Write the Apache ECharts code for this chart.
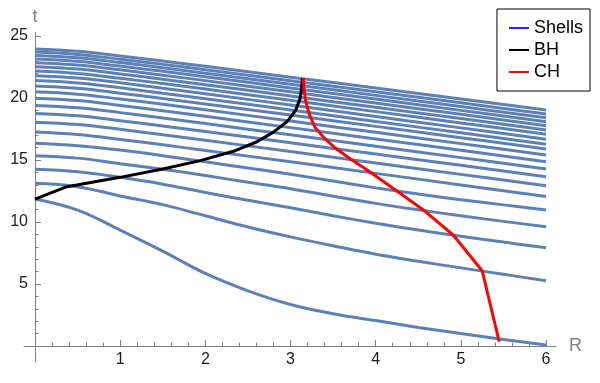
<!DOCTYPE html>
<html>
<head>
<meta charset="utf-8">
<script src="https://cdn.jsdelivr.net/npm/echarts@6/dist/echarts.min.js"></script>
<style>
  html, body { margin: 0; padding: 0; background: #fff; }
  #chart { width: 600px; height: 383px; }
</style>
</head>
<body>
<div id="chart"></div>
<script>
// R grids the shell values are read at
const R_LOWER = [0, 0.5, 1, 1.5, 2, 2.5, 3, 3.5, 4, 4.5, 5, 5.5, 6];
const R_UPPER = [0, 0.5, 1, 1.5, 2, 3, 4, 5, 6];

// inner shells (bottom up), t at R_LOWER
const lowerShells = [
  [11.85, 10.95, 9.35, 7.65, 5.85, 4.45, 3.35, 2.6, 2.05, 1.5, 1.0, 0.53, 0.08],
  [13.12, 12.85, 12.1, 11.4, 10.5, 9.6, 8.8, 8.08, 7.4, 6.83, 6.3, 5.78, 5.27],
  [14.25, 14.05, 13.6, 13.05, 12.38, 11.75, 11.15, 10.5, 9.9, 9.35, 8.85, 8.38, 7.93],
  [15.35, 15.15, 14.7, 14.25, 13.75, 13.2, 12.68, 12.08, 11.5, 10.98, 10.5, 10.05, 9.62],
  [16.35, 16.15, 15.8, 15.35, 14.85, 14.35, 13.85, 13.3, 12.75, 12.25, 11.8, 11.38, 10.97]
];

// outer shells (bottom up), t at R_UPPER
const upperShells = [
  [17.25, 17.05, 16.66, 16.22, 15.77, 14.85, 13.92, 12.99, 12.05],
  [18.05, 17.86, 17.47, 17.03, 16.59, 15.68, 14.76, 13.84, 12.92],
  [18.75, 18.56, 18.17, 17.74, 17.3, 16.39, 15.48, 14.57, 13.65],
  [19.4, 19.21, 18.82, 18.38, 17.94, 17.03, 16.11, 15.19, 14.27],
  [19.98, 19.79, 19.4, 18.97, 18.52, 17.61, 16.7, 15.78, 14.86],
  [20.5, 20.31, 19.92, 19.49, 19.05, 18.14, 17.23, 16.32, 15.4],
  [20.97, 20.78, 20.39, 19.96, 19.52, 18.62, 17.71, 16.8, 15.89],
  [21.4, 21.21, 20.82, 20.38, 19.94, 19.03, 18.11, 17.19, 16.27],
  [21.8, 21.61, 21.22, 20.78, 20.34, 19.43, 18.51, 17.59, 16.67],
  [22.17, 21.98, 21.59, 21.16, 20.72, 19.81, 18.9, 17.99, 17.07],
  [22.52, 22.33, 21.94, 21.51, 21.07, 20.16, 19.25, 18.34, 17.42],
  [22.85, 22.66, 22.27, 21.84, 21.4, 20.5, 19.59, 18.68, 17.76],
  [23.15, 22.96, 22.57, 22.15, 21.71, 20.81, 19.91, 19.0, 18.09],
  [23.43, 23.24, 22.86, 22.44, 22.0, 21.11, 20.21, 19.31, 18.41],
  [23.7, 23.51, 23.13, 22.71, 22.28, 21.39, 20.5, 19.61, 18.71],
  [23.95, 23.76, 23.39, 22.98, 22.55, 21.68, 20.8, 19.92, 19.03]
];

const BH_R = [0, 0.375, 1, 1.5, 1.94, 2.33, 2.6, 2.8, 2.96, 3.06, 3.11, 3.13, 3.14];
const BH_T = [11.85, 12.85, 13.6, 14.27, 14.95, 15.7, 16.45, 17.25, 18.1, 19.0, 19.9, 20.7, 21.6];

const CH_R = [3.15, 3.16, 3.18, 3.22, 3.29, 3.4, 3.51, 3.7, 3.9, 4.29, 4.56, 4.91, 5.25, 5.45];
const CH_T = [21.6, 20.6, 19.7, 18.7, 17.6, 16.75, 16.05, 15.1, 14.2, 12.3, 10.97, 8.95, 6.07, 0.35];

const X_MAJOR = [1, 2, 3, 4, 5, 6];
const X_MINOR = [0.2, 0.4, 0.6, 0.8, 1.2, 1.4, 1.6, 1.8, 2.2, 2.4, 2.6, 2.8, 3.2, 3.4, 3.6, 3.8,
                 4.2, 4.4, 4.6, 4.8, 5.2, 5.4, 5.6, 5.8];
const Y_MAJOR = [5, 10, 15, 20, 25];
const Y_MINOR = [1, 2, 3, 4, 6, 7, 8, 9, 11, 12, 13, 14, 16, 17, 18, 19, 21, 22, 23, 24];

const SHELL_COLOR = '#5E81B5';
const AXIS_GRAY = '#7f7f7f';
const FONT = '"Liberation Sans", Arial, sans-serif';

const pairs = (xs, ys) => xs.map((x, i) => [x, ys[i]]);

const lineSeries = (name, data, color, smooth) => ({
  name,
  type: 'line',
  data,
  smooth,
  symbol: 'none',
  silent: true,
  xAxisIndex: 0,
  yAxisIndex: 0,
  lineStyle: { color, width: 3 },
  itemStyle: { color }
});

const series = [];
lowerShells.forEach(ts => series.push(lineSeries('Shells', pairs(R_LOWER, ts), SHELL_COLOR, 0.4)));
upperShells.forEach(ts => series.push(lineSeries('Shells', pairs(R_UPPER, ts), SHELL_COLOR, 0.4)));
series.push(lineSeries('BH', pairs(BH_R, BH_T), '#000000', false));
series.push(lineSeries('CH', pairs(CH_R, CH_T), '#ff0000', false));

const X_MIN = -0.129, X_MAX = 6.117;
const Y_MIN = -1.29, Y_MAX = 25.24;

const chart = echarts.init(document.getElementById('chart'));
chart.setOption({
  animation: false,
  textStyle: { fontFamily: FONT },
  grid: { left: 24, right: 44, top: 33, bottom: 21, containLabel: false },
  legend: {
    orient: 'vertical',
    right: 10,
    top: 9,
    padding: [9, 7, 9, 12],
    itemGap: 2,
    itemWidth: 20,
    itemHeight: 2,
    icon: 'rect',
    borderColor: '#000',
    borderWidth: 1,
    selectedMode: false,
    textStyle: { fontSize: 18, color: '#000', lineHeight: 20, fontFamily: FONT },
    data: [
      { name: 'Shells', itemStyle: { color: '#2424ff' } },
      { name: 'BH', itemStyle: { color: '#000000' } },
      { name: 'CH', itemStyle: { color: '#ff0000' } }
    ]
  },
  xAxis: [
    {
      type: 'value',
      min: X_MIN,
      max: X_MAX,
      position: 'bottom',
      name: 'R',
      nameLocation: 'end',
      nameGap: 13,
      nameTextStyle: { color: '#808080', fontSize: 18, fontFamily: FONT },
      axisLine: { onZero: true, onZeroAxisIndex: 0, lineStyle: { color: AXIS_GRAY, width: 1 } },
      axisTick: { inside: true, length: 6, customValues: X_MAJOR, lineStyle: { color: AXIS_GRAY } },
      // labels are laid out from the grid edge; anchor by their bottom to lift them to t = 0
      axisLabel: {
        customValues: X_MAJOR, margin: 6, verticalAlign: 'bottom', lineHeight: 16,
        fontSize: 16, color: '#1a1a1a', fontFamily: FONT
      },
      splitLine: { show: false }
    },
    {
      type: 'value',
      min: X_MIN,
      max: X_MAX,
      position: 'bottom',
      axisLine: { show: false, onZero: true, onZeroAxisIndex: 0 },
      axisTick: { inside: true, length: 3.5, customValues: X_MINOR, lineStyle: { color: AXIS_GRAY } },
      axisLabel: { show: false },
      splitLine: { show: false }
    }
  ],
  yAxis: [
    {
      type: 'value',
      min: Y_MIN,
      max: Y_MAX,
      position: 'left',
      name: 't',
      nameLocation: 'end',
      nameGap: 7,
      nameTextStyle: { color: '#808080', fontSize: 18, fontFamily: FONT },
      axisLine: { onZero: true, onZeroAxisIndex: 0, lineStyle: { color: AXIS_GRAY, width: 1 } },
      axisTick: { inside: true, length: 6, customValues: Y_MAJOR, lineStyle: { color: AXIS_GRAY } },
      // fixed-width box, left-anchored, text right-aligned inside it
      axisLabel: {
        customValues: Y_MAJOR, margin: 16, align: 'left',
        fontSize: 16, color: '#1a1a1a', fontFamily: FONT,
        formatter: v => '{n|' + v + '}',
        rich: { n: { width: 20, align: 'right', fontSize: 16, color: '#1a1a1a', fontFamily: FONT } }
      },
      splitLine: { show: false }
    },
    {
      type: 'value',
      min: Y_MIN,
      max: Y_MAX,
      position: 'left',
      axisLine: { show: false, onZero: true, onZeroAxisIndex: 0 },
      axisTick: { inside: true, length: 3.5, customValues: Y_MINOR, lineStyle: { color: AXIS_GRAY } },
      axisLabel: { show: false },
      splitLine: { show: false }
    }
  ],
  series
});
</script>
</body>
</html>
